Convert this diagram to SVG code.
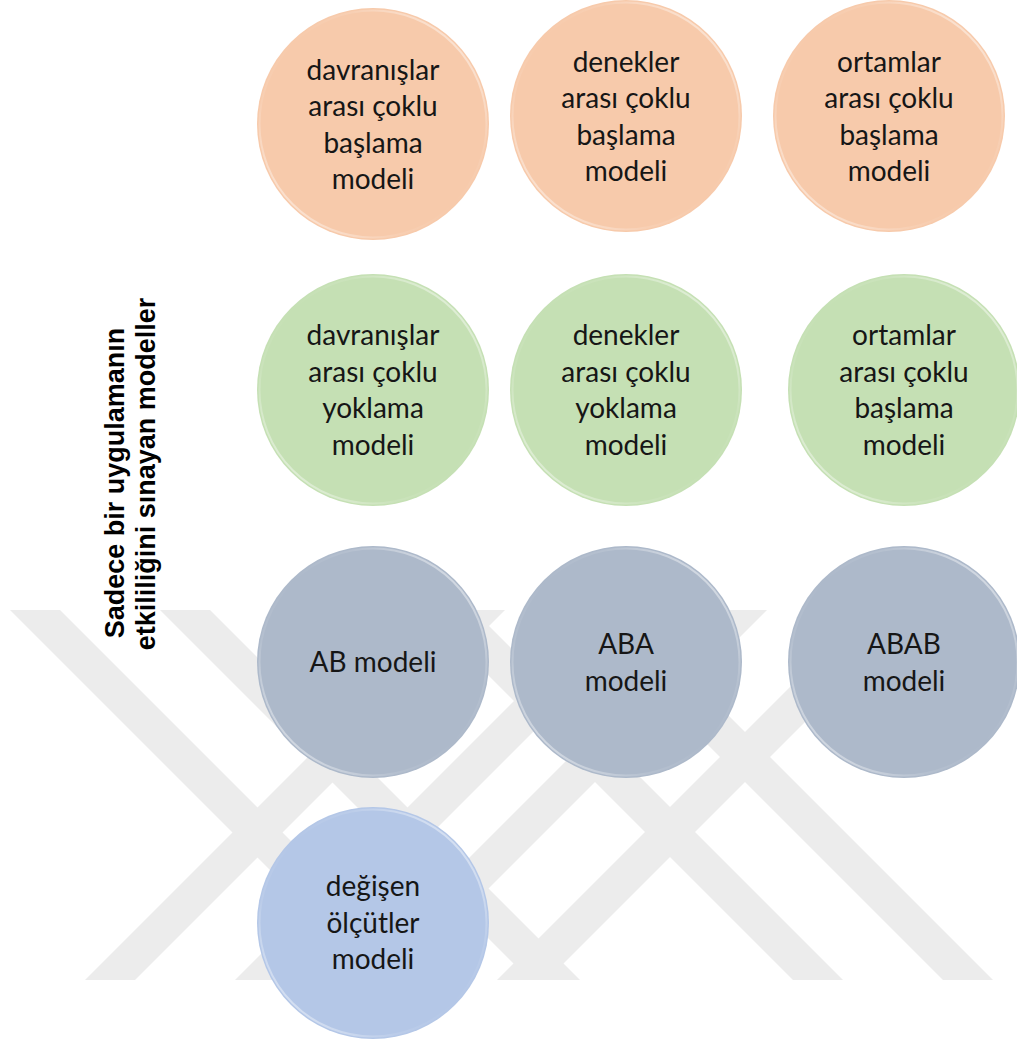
<svg xmlns="http://www.w3.org/2000/svg" width="1017" height="1046" viewBox="0 0 1017 1046">
<style>
.wm{fill:#ececec}
.t{font-family:Lato,"Open Sans","DejaVu Sans",sans-serif;font-size:28px;fill:#161616;text-anchor:middle}
.lbl{font-family:"Liberation Sans",Arial,sans-serif;font-size:27px;font-weight:bold;fill:#000;text-anchor:middle}
.rim{fill:none;stroke:url(#rim);stroke-width:2}
.or{fill:#f7caab}
.gr{fill:#c5e0b4}
.sl{fill:#adb9ca}
.bl{fill:#b4c7e7}
</style>
<defs>
<linearGradient id="rim" x1="1" y1="0" x2="0" y2="1">
<stop offset="0" stop-color="#fff" stop-opacity="0.75"/>
<stop offset="0.3" stop-color="#fff" stop-opacity="0.1"/>
<stop offset="0.5" stop-color="#fff" stop-opacity="0"/>
<stop offset="0.7" stop-color="#fff" stop-opacity="0.1"/>
<stop offset="1" stop-color="#fff" stop-opacity="0.7"/>
</linearGradient>
</defs>
<rect width="1017" height="1046" fill="#fff"/>
<g id="watermark">
<polygon class="wm" points="10,610 60,610 430,980 380,980"/>
<polygon class="wm" points="160,610 210,610 580,980 530,980"/>
<polygon class="wm" points="423,610 473,610 843,980 793,980"/>
<polygon class="wm" points="573,610 623,610 993,980 943,980"/>
<polygon class="wm" points="455,610 505,610 135,980 85,980"/>
<polygon class="wm" points="605,610 655,610 285,980 235,980"/>
<polygon class="wm" points="717,610 767,610 397,980 347,980"/>
<polygon class="wm" points="867,610 917,610 547,980 497,980"/>
</g>
<g id="label">
<text class="lbl" transform="translate(124,483) rotate(-90)">Sadece bir uygulamanın</text>
<text class="lbl" transform="translate(155,474) rotate(-90)">etkililiğini sınayan modeller</text>
</g>
<g id="connectors"/>
<g id="n1">
<circle class="or" cx="373" cy="124" r="116"/><circle class="rim" cx="373" cy="124" r="113.5"/>
<text class="t"><tspan x="373" y="80">davranışlar</tspan><tspan x="373" y="116">arası çoklu</tspan><tspan x="373" y="152.5">başlama</tspan><tspan x="373" y="189">modeli</tspan></text>
</g>
<g id="n2">
<circle class="or" cx="626" cy="116" r="116"/><circle class="rim" cx="626" cy="116" r="113.5"/>
<text class="t"><tspan x="626" y="71.5">denekler</tspan><tspan x="626" y="108">arası çoklu</tspan><tspan x="626" y="144.5">başlama</tspan><tspan x="626" y="181">modeli</tspan></text>
</g>
<g id="n3">
<circle class="or" cx="889" cy="116" r="116"/><circle class="rim" cx="889" cy="116" r="113.5"/>
<text class="t"><tspan x="889" y="71.5">ortamlar</tspan><tspan x="889" y="108">arası çoklu</tspan><tspan x="889" y="144.5">başlama</tspan><tspan x="889" y="181">modeli</tspan></text>
</g>
<g id="n4">
<circle class="gr" cx="373" cy="390" r="116"/><circle class="rim" cx="373" cy="390" r="113.5"/>
<text class="t"><tspan x="373" y="345">davranışlar</tspan><tspan x="373" y="381.5">arası çoklu</tspan><tspan x="373" y="418">yoklama</tspan><tspan x="373" y="454.5">modeli</tspan></text>
</g>
<g id="n5">
<circle class="gr" cx="626" cy="390" r="116"/><circle class="rim" cx="626" cy="390" r="113.5"/>
<text class="t"><tspan x="626" y="345">denekler</tspan><tspan x="626" y="381.5">arası çoklu</tspan><tspan x="626" y="418">yoklama</tspan><tspan x="626" y="454.5">modeli</tspan></text>
</g>
<g id="n6">
<circle class="gr" cx="904" cy="390" r="116"/><circle class="rim" cx="904" cy="390" r="113.5"/>
<text class="t"><tspan x="904" y="345">ortamlar</tspan><tspan x="904" y="381.5">arası çoklu</tspan><tspan x="904" y="418">başlama</tspan><tspan x="904" y="454.5">modeli</tspan></text>
</g>
<g id="n7">
<circle class="sl" cx="373" cy="662" r="116"/><circle class="rim" cx="373" cy="662" r="113.5"/>
<text class="t" x="373" y="672">AB modeli</text>
</g>
<g id="n8">
<circle class="sl" cx="626" cy="662" r="116"/><circle class="rim" cx="626" cy="662" r="113.5"/>
<text class="t"><tspan x="626" y="654">ABA</tspan><tspan x="626" y="691">modeli</tspan></text>
</g>
<g id="n9">
<circle class="sl" cx="904" cy="662" r="116"/><circle class="rim" cx="904" cy="662" r="113.5"/>
<text class="t"><tspan x="904" y="654">ABAB</tspan><tspan x="904" y="691">modeli</tspan></text>
</g>
<g id="n10">
<circle class="bl" cx="373" cy="923" r="116"/><circle class="rim" cx="373" cy="923" r="113.5"/>
<text class="t"><tspan x="373" y="896">değişen</tspan><tspan x="373" y="932.5">ölçütler</tspan><tspan x="373" y="969">modeli</tspan></text>
</g>
</svg>
